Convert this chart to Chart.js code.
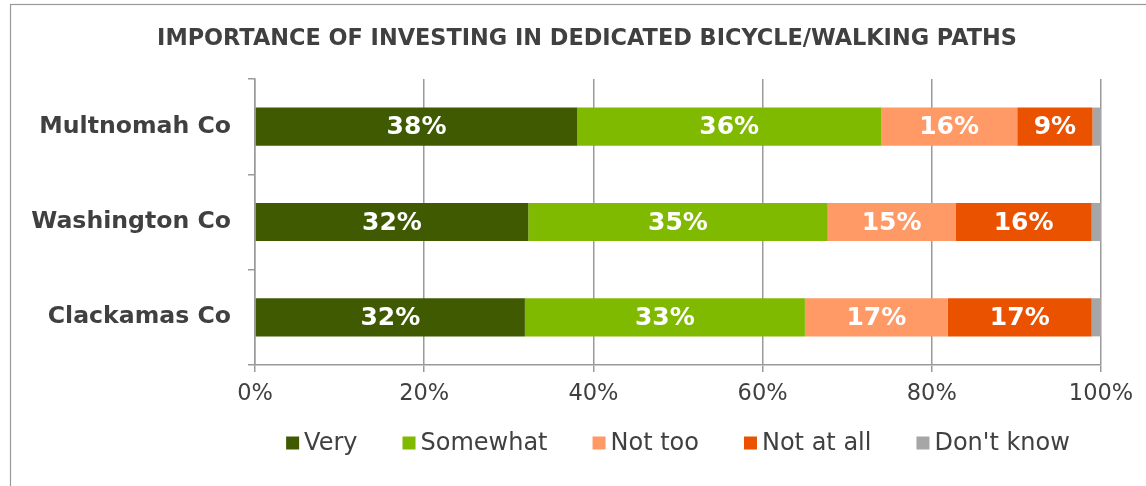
<!DOCTYPE html>
<html>
<head>
<meta charset="utf-8">
<script src="https://cdn.jsdelivr.net/npm/chart.js@4"></script>
<style>
  html, body { margin: 0; padding: 0; background: #ffffff; }
  #wrap { position: relative; width: 1146px; height: 486px; }
</style>
</head>
<body>
<div id="wrap"><canvas id="c" width="1146" height="486"></canvas></div>
<script>
const titleText = 'IMPORTANCE OF INVESTING IN DEDICATED BICYCLE/WALKING PATHS';
const categories = ['Multnomah Co', 'Washington Co', 'Clackamas Co'];
const seriesNames = ['Very', 'Somewhat', 'Not too', 'Not at all', "Don't know"];
const very = [38.1, 32.3, 31.9];
const somewhat = [35.9, 35.4, 33.1];
const notToo = [16.1, 15.1, 16.9];
const notAtAll = [8.9, 16.1, 17.0];
const dontKnow = [1.0, 1.1, 1.1];
const xTicks = [0, 20, 40, 60, 80, 100];
const colors = ['#3F5A00', '#80BA00', '#FF9966', '#EA5200', '#A6A6A6'];
const showLabel = [true, true, true, true, false];

const FONT = '"DejaVu Sans", Verdana, sans-serif';
const TEXT = '#404040';
const AXIS = '#9A9A9A';

const seriesData = [very, somewhat, notToo, notAtAll, dontKnow];

const framePlugin = {
  id: 'frame',
  beforeDraw(chart) {
    const ctx = chart.ctx;
    ctx.save();
    ctx.fillStyle = '#ffffff';
    ctx.fillRect(0, 0, chart.width, chart.height);
    ctx.strokeStyle = '#999999';
    ctx.lineWidth = 1.2;
    ctx.strokeRect(10.5, 4.5, 1300, 700);
    ctx.restore();
  }
};

const titlePlugin = {
  id: 'customTitle',
  afterDraw(chart) {
    const ctx = chart.ctx;
    ctx.save();
    ctx.font = 'bold 22.4px ' + FONT;
    ctx.fillStyle = TEXT;
    ctx.textAlign = 'center';
    ctx.textBaseline = 'middle';
    ctx.fillText(titleText, 587, 39);
    ctx.restore();
  }
};

const labelPlugin = {
  id: 'segLabels',
  afterDatasetsDraw(chart) {
    const ctx = chart.ctx;
    ctx.save();
    ctx.font = 'bold 25px ' + FONT;
    ctx.fillStyle = '#ffffff';
    ctx.textAlign = 'center';
    ctx.textBaseline = 'middle';
    chart.data.datasets.forEach((ds, di) => {
      if (!showLabel[di]) return;
      const meta = chart.getDatasetMeta(di);
      meta.data.forEach((bar, i) => {
        const cx = (bar.x + bar.base) / 2;
        ctx.fillText(Math.round(ds.data[i]) + '%', cx, bar.y + 1);
      });
    });
    ctx.restore();
  }
};

const legendPlugin = {
  id: 'customLegend',
  afterDraw(chart) {
    const ctx = chart.ctx;
    const area = chart.chartArea;
    ctx.save();
    ctx.font = '24px ' + FONT;
    ctx.textBaseline = 'middle';
    ctx.textAlign = 'left';
    const box = 13, boxGap = 5, itemGap = 45;
    const items = chart.data.datasets.map(ds => ({
      text: ds.label, color: ds.backgroundColor,
      w: box + boxGap + ctx.measureText(ds.label).width
    }));
    const total = items.reduce((s, it) => s + it.w, 0) + itemGap * (items.length - 1);
    let x = (area.left + area.right) / 2 - total / 2;
    const y = 443;
    items.forEach(it => {
      ctx.fillStyle = it.color;
      ctx.fillRect(x, y - box / 2, box, box);
      ctx.fillStyle = TEXT;
      ctx.fillText(it.text, x + box + boxGap, y + 1);
      x += it.w + itemGap;
    });
    ctx.restore();
  }
};

new Chart(document.getElementById('c'), {
  type: 'bar',
  data: {
    labels: categories,
    datasets: seriesNames.map((n, i) => ({
      label: n,
      data: seriesData[i],
      backgroundColor: colors[i],
      borderWidth: 0,
      categoryPercentage: 1.0,
      barPercentage: 0.4
    }))
  },
  options: {
    indexAxis: 'y',
    responsive: false,
    animation: false,
    layout: { padding: { top: 79, right: 45, left: 0, bottom: 0 } },
    plugins: {
      legend: { display: false },
      title: { display: false },
      tooltip: { enabled: false }
    },
    scales: {
      x: {
        stacked: true,
        min: 0,
        max: 100,
        afterFit: s => { s.height = 121; },
        afterBuildTicks: s => { s.ticks = xTicks.map(v => ({ value: v })); },
        ticks: {
          callback: v => v + '%',
          font: { family: FONT, size: 22.5 },
          color: TEXT,
          padding: 9,
          maxRotation: 0
        },
        grid: { color: AXIS, lineWidth: 1.5, tickLength: 7, drawOnChartArea: true },
        border: { display: true, color: AXIS, width: 1.5 }
      },
      y: {
        stacked: true,
        afterFit: s => { s.width = 255; },
        ticks: {
          font: { family: FONT, size: 23.6, weight: 'bold' },
          color: TEXT,
          padding: 17
        },
        grid: { offset: true, drawOnChartArea: false, color: AXIS, lineWidth: 1.5, tickLength: 7 },
        border: { display: true, color: AXIS, width: 1.5 }
      }
    }
  },
  plugins: [framePlugin, titlePlugin, labelPlugin, legendPlugin]
});
</script>
</body>
</html>
